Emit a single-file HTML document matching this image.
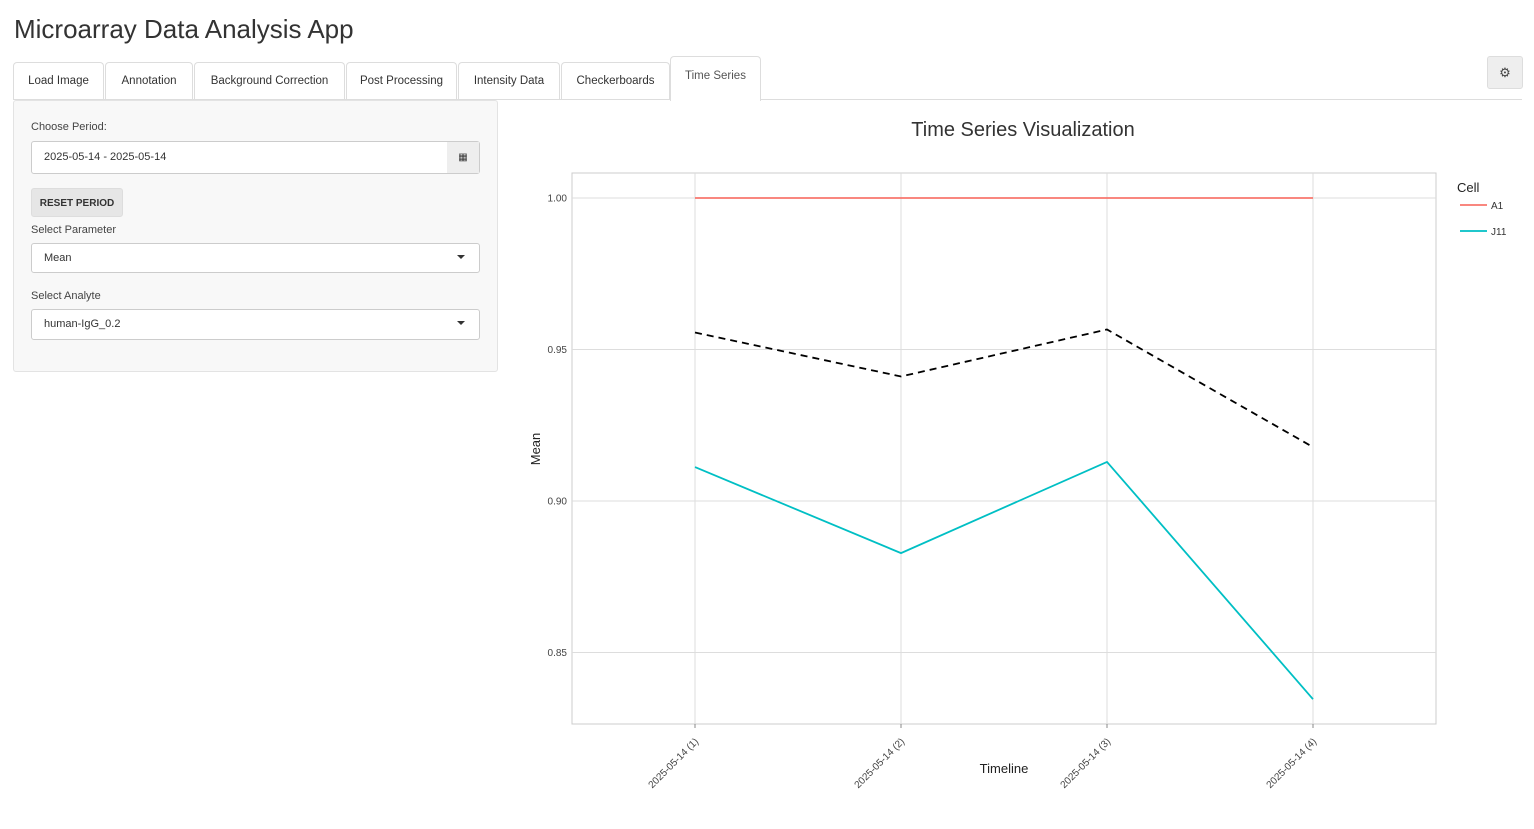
<!DOCTYPE html>
<html><head><meta charset="utf-8">
<style>
body{margin:0;width:1534px;height:829px;background:#fff;font-family:"Liberation Sans",sans-serif;color:#333;position:relative;overflow:hidden}
.abs{position:absolute}
h1{position:absolute;left:14px;top:14px;margin:0;font-size:26px;font-weight:normal;color:#333}
.tab{position:absolute;top:62px;height:37px;border:1px solid #ddd;border-bottom:none;border-radius:4px 4px 0 0;font-size:11.5px;line-height:37px;text-align:center;color:#333;background:#fff}
.tabline{position:absolute;left:13px;top:99px;width:1509px;height:1px;background:#ddd}
.panel{position:absolute;left:13px;top:100px;width:483px;height:270px;background:#f8f8f8;border:1px solid #e3e3e3;border-radius:3px}
.lbl{position:absolute;font-size:11px;color:#444}
.inp{position:absolute;background:#fff;border:1px solid #ccc;border-radius:3px;font-size:11px;color:#333;box-sizing:border-box;padding-left:12px}
.caret{position:absolute;right:14px;top:11px;width:0;height:0;border-left:4px solid transparent;border-right:4px solid transparent;border-top:4px solid #333}
</style></head><body>
<h1>Microarray Data Analysis App</h1>
<div class="tab" style="left:13px;width:89px">Load Image</div>
<div class="tab" style="left:105px;width:86px">Annotation</div>
<div class="tab" style="left:194px;width:149px">Background Correction</div>
<div class="tab" style="left:346px;width:109px">Post Processing</div>
<div class="tab" style="left:458px;width:100px">Intensity Data</div>
<div class="tab" style="left:561px;width:107px">Checkerboards</div>
<div class="tabline"></div>
<div class="tab" style="left:670px;top:56px;height:44px;line-height:38px;width:89px;color:#555;z-index:2">Time Series</div>
<div class="abs" style="left:1487px;top:56px;width:34px;height:31px;background:#eee;border:1px solid #ddd;border-radius:3px;text-align:center;line-height:31px;font-size:13px;color:#444">⚙</div>

<div class="panel"></div>
<div class="lbl" style="left:31px;top:121px">Choose Period:</div>
<div class="inp" style="left:31px;top:141px;width:449px;height:33px;line-height:31px">2025-05-14 - 2025-05-14
<div class="abs" style="right:0;top:0;width:32px;height:31px;background:#eee;text-align:center;font-size:10px">▦</div></div>
<div class="abs" style="left:31px;top:188px;width:92px;height:29px;background:#e6e6e6;border:1px solid #ddd;border-radius:3px;font-size:10px;font-weight:bold;line-height:29px;text-align:center;color:#333;box-sizing:border-box">RESET PERIOD</div>
<div class="lbl" style="left:31px;top:224px">Select Parameter</div>
<div class="inp" style="left:31px;top:243px;width:449px;height:30px;line-height:28px">Mean<div class="caret"></div></div>
<div class="lbl" style="left:31px;top:290px">Select Analyte</div>
<div class="inp" style="left:31px;top:309px;width:449px;height:31px;line-height:29px">human-IgG_0.2<div class="caret"></div></div>

<svg class="abs" style="left:0;top:0" width="1534" height="829" id="chart"></svg>
<script>
const categories=["2025-05-14 (1)","2025-05-14 (2)","2025-05-14 (3)","2025-05-14 (4)"];
const a1Values=[1.0,1.0,1.0,1.0];
const j11Values=[0.9112,0.8828,0.9129,0.8346];
const meanValues=[0.9556,0.9411,0.9566,0.9178];
const yTicks=[0.85,0.90,0.95,1.00];
const yTickLabels=["0.85","0.90","0.95","1.00"];
const NS="http://www.w3.org/2000/svg";
const svg=document.getElementById('chart');
const L=572,R=1436,T=173,B=724;
function xs(i){return 695+i*206;}
function ys(v){return 501-(v-0.90)/0.05*151.5;}
function mk(tag,at,parent){const e=document.createElementNS(NS,tag);for(const k in at)e.setAttribute(k,at[k]);(parent||svg).appendChild(e);return e;}
let r=mk('rect',{x:L,y:T,width:R-L,height:B-T,fill:'#fff',stroke:'#ccc'});


yTicks.forEach((v,i)=>{
 let g=mk('line',{x1:L,x2:R,y1:ys(v),y2:ys(v),stroke:'#ddd'});
 
 
 let t=mk('text',{x:L-5,y:ys(v)+3.5,'text-anchor':'end','font-size':'10',fill:'#444','font-family':'Liberation Sans'});
 t.textContent=yTickLabels[i];
 
 
});
categories.forEach((c,i)=>{
 let g=mk('line',{x1:xs(i),x2:xs(i),y1:T,y2:B,stroke:'#ddd'});
 
 
 mk('line',{x1:xs(i),x2:xs(i),y1:B,y2:B+4,stroke:'#888'});
 let t=mk('text',{x:xs(i)+4,y:B+18,'text-anchor':'end','font-size':'10',fill:'#444','font-family':'Liberation Sans',transform:`rotate(-45 ${xs(i)+4} ${B+18})`});
 t.textContent=c;
 
 
});
function line(vals,color,dash,name){
 const p=mk('polyline',{points:vals.map((v,i)=>xs(i)+','+ys(v)).join(' '),fill:'none',stroke:color,'stroke-width':'1.8','stroke-dasharray':dash||'none'});
 
 
}
line(a1Values,'#f8766d',null,'series-a1');
line(meanValues,'#000','7,5','series-mean');
line(j11Values,'#00bfc4',null,'series-j11');
let tt=mk('text',{x:1023,y:136,'text-anchor':'middle','font-size':'20',fill:'#333','font-family':'Liberation Sans'});
tt.textContent='Time Series Visualization';


let xt=mk('text',{x:1004,y:773,'text-anchor':'middle','font-size':'13',fill:'#222','font-family':'Liberation Sans'});
xt.textContent='Timeline';


let yt=mk('text',{x:540,y:449,'text-anchor':'middle','font-size':'13',fill:'#222','font-family':'Liberation Sans',transform:'rotate(-90 540 449)'});
yt.textContent='Mean';


let lt=mk('text',{x:1457,y:192,'font-size':'13',fill:'#222','font-family':'Liberation Sans'});
lt.textContent='Cell';


[['A1','#f8766d',205],['J11','#00bfc4',231]].forEach(([n,c,y])=>{
 const g=mk('g',{});
 
 
 mk('line',{x1:1460,x2:1487,y1:y,y2:y,stroke:c,'stroke-width':'1.8'},g);
 const t=mk('text',{x:1491,y:y+4,'font-size':'10',fill:'#333','font-family':'Liberation Sans'},g);
 t.textContent=n;
});
</script>
</body></html>
